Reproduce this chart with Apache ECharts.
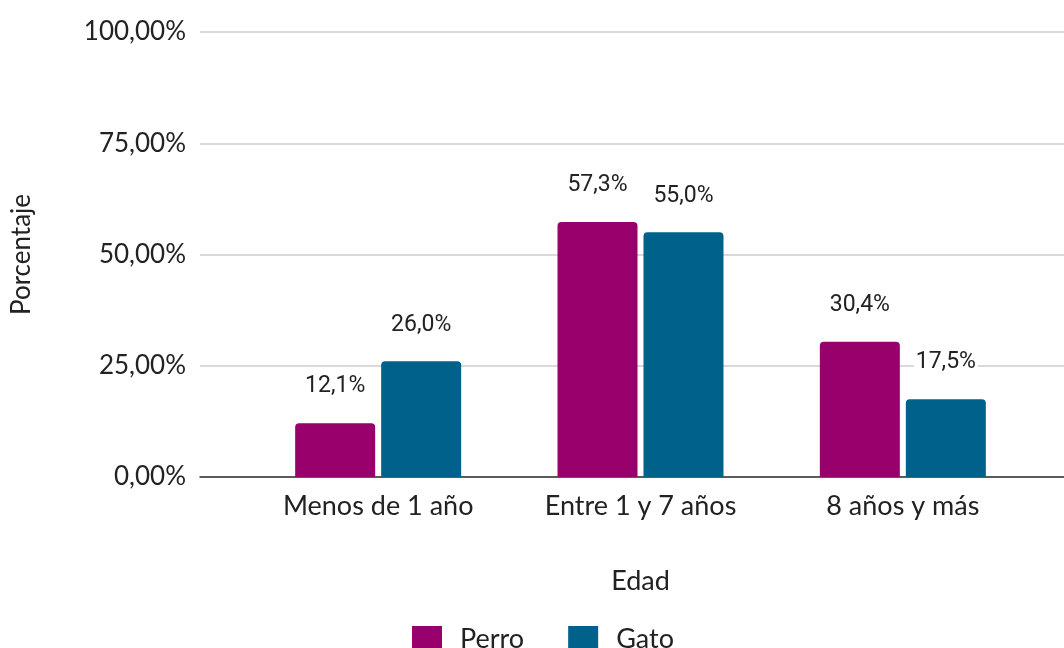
<!DOCTYPE html>
<html>
<head>
<meta charset="utf-8">
<script src="https://cdn.jsdelivr.net/npm/echarts@6/dist/echarts.min.js"></script>
<style>
html, body { margin: 0; padding: 0; background: #fff; }
#chart { width: 1064px; height: 648px; }
</style>
</head>
<body>
<div id="chart"></div>
<script>
// datos
var categorias = ['Menos de 1 año', 'Entre 1 y 7 años', '8 años y más'];
var perro = [12.1, 57.3, 30.4];
var gato = [26.0, 55.0, 17.5];
var ticksY = ['0,00%', '25,00%', '50,00%', '75,00%', '100,00%'];

var fuenteEje = 'Lato, "Open Sans", sans-serif';
var colorPerro = '#98006B';
var colorGato = '#00628A';

function etiqueta(p) {
	return p.value.toFixed(1).replace('.', ',') + '%';
}

var estiloEtiqueta = {
	show: true,
	position: 'top',
	distance: 24,
	formatter: etiqueta,
	color: '#222',
	fontSize: 23,
	fontFamily: 'Roboto, sans-serif',
	backgroundColor: '#fff',
	padding: [1, 2]
};

var myChart = echarts.init(document.getElementById('chart'));
myChart.setOption({
	animation: false,
	legend: {
		data: ['Perro', 'Gato'],
		left: 407,
		top: 621,
		itemWidth: 30,
		itemHeight: 27,
		itemGap: 44,
		icon: 'rect',
		textStyle: {
			color: '#222',
			fontSize: 27,
			fontFamily: fuenteEje,
			padding: [0, 0, 0, 13]
		}
	},
	grid: [
		// fondo: lineas de la cuadricula y eje Y
		{ left: 200, right: 0, top: 32, bottom: 171, containLabel: false, outerBoundsMode: 'none' },
		// barras
		{ left: 247, right: 30, top: 32, bottom: 171, containLabel: false, outerBoundsMode: 'none' }
	],
	xAxis: [
		{
			gridIndex: 0,
			type: 'value',
			min: 0,
			max: 1,
			axisLine: { show: true, onZero: false, lineStyle: { color: '#333', width: 1.5 } },
			axisTick: { show: false },
			axisLabel: { show: false },
			splitLine: { show: false }
		},
		{
			gridIndex: 1,
			type: 'category',
			data: categorias,
			axisLine: { show: false },
			axisTick: { show: false },
			axisLabel: {
				color: '#222',
				fontSize: 27,
				fontFamily: fuenteEje,
				margin: 16
			},
			name: 'Edad',
			nameLocation: 'middle',
			nameGap: 91,
			nameTextStyle: { color: '#222', fontSize: 27, fontFamily: fuenteEje }
		}
	],
	yAxis: [
		{
			gridIndex: 0,
			type: 'value',
			min: 0,
			max: 100,
			interval: 25,
			axisLine: { show: false },
			axisTick: { show: false },
			axisLabel: {
				color: '#222',
				fontSize: 26,
				fontFamily: fuenteEje,
				margin: 14,
				formatter: function (v) { return ticksY[Math.round(v / 25)]; }
			},
			splitLine: { lineStyle: { color: '#cccccc', width: 1.5 } },
			name: 'Porcentaje',
			nameLocation: 'middle',
			nameRotate: 90,
			nameGap: 165,
			nameTextStyle: { color: '#222', fontSize: 26, fontFamily: fuenteEje }
		},
		{
			gridIndex: 1,
			type: 'value',
			min: 0,
			max: 100,
			show: false
		}
	],
	series: [
		{
			name: 'Perro',
			type: 'bar',
			xAxisIndex: 1,
			yAxisIndex: 1,
			data: perro,
			barWidth: 80,
			barGap: '7.5%',
			itemStyle: { color: colorPerro, borderRadius: [4, 4, 0, 0] },
			label: estiloEtiqueta
		},
		{
			name: 'Gato',
			type: 'bar',
			xAxisIndex: 1,
			yAxisIndex: 1,
			data: gato,
			barWidth: 80,
			barGap: '7.5%',
			itemStyle: { color: colorGato, borderRadius: [4, 4, 0, 0] },
			label: estiloEtiqueta
		}
	]
});
</script>
</body>
</html>
